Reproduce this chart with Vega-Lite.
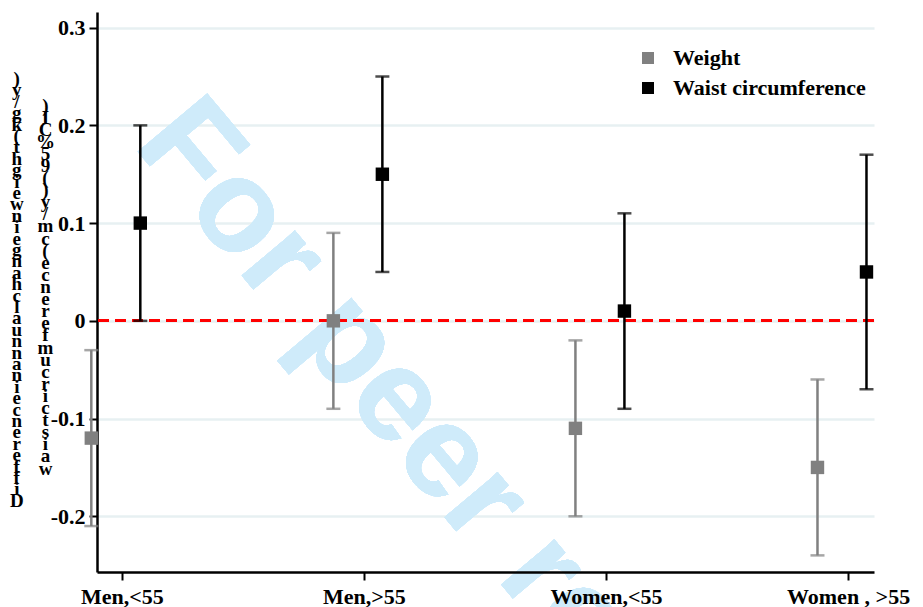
{
  "$schema": "https://vega.github.io/schema/vega-lite/v6.json",
  "width": 777,
  "height": 560,
  "autosize": "none",
  "padding": {"left": 97, "top": 12, "right": 49, "bottom": 35},
  "background": "white",
  "config": {
    "view": {"stroke": null},
    "font": "Liberation Serif",
    "legend": {
      "title": null,
      "orient": "none",
      "legendX": 540,
      "legendY": 35,
      "padding": 0,
      "symbolType": "square",
      "symbolSize": 144,
      "symbolStrokeWidth": 0,
      "symbolOpacity": 1,
      "labelFont": "Liberation Serif",
      "labelFontWeight": "bold",
      "labelFontSize": 22,
      "labelColor": "black",
      "labelLimit": 0,
      "labelOffset": 14,
      "rowPadding": 8
    }
  },
  "title": {
    "text": [")", "y", "/", "g", "k", "(", "\u00a0", "t", "h", "g", "i", "e", "w", "\u00a0", "n", "i", "\u00a0", "e", "g", "n", "a", "h", "c", "\u00a0", "l", "a", "u", "n", "n", "a", "\u00a0", "n", "i", "\u00a0", "e", "c", "n", "e", "r", "e", "f", "f", "i", "D"],
    "orient": "left",
    "angle": 0,
    "anchor": "middle",
    "align": "center",
    "baseline": "top",
    "dy": -222,
    "font": "Liberation Serif",
    "fontWeight": "bold",
    "fontSize": 19,
    "lineHeight": 11.4,
    "color": "black",
    "offset": 5
  },
  "data": {
    "values": [
      {"group": "Men,<55", "measure": "Weight", "est": -0.12, "lo": -0.21, "hi": -0.03},
      {"group": "Men,>55", "measure": "Weight", "est": 0.0, "lo": -0.09, "hi": 0.09},
      {"group": "Women,<55", "measure": "Weight", "est": -0.11, "lo": -0.2, "hi": -0.02},
      {"group": "Women , >55", "measure": "Weight", "est": -0.15, "lo": -0.24, "hi": -0.06},
      {"group": "Men,<55", "measure": "Waist circumference", "est": 0.1, "lo": 0.0, "hi": 0.2},
      {"group": "Men,>55", "measure": "Waist circumference", "est": 0.15, "lo": 0.05, "hi": 0.25},
      {"group": "Women,<55", "measure": "Waist circumference", "est": 0.01, "lo": -0.09, "hi": 0.11},
      {"group": "Women , >55", "measure": "Waist circumference", "est": 0.05, "lo": -0.07, "hi": 0.17}
    ]
  },
  "encoding": {
    "x": {
      "field": "group",
      "type": "nominal",
      "sort": ["Men,<55", "Men,>55", "Women,<55", "Women , >55"],
      "scale": {"type": "band", "paddingInner": 0.9, "paddingOuter": 0.055},
      "axis": {
        "title": null,
        "zindex": 1,
        "labelAngle": 0,
        "labelFont": "Liberation Serif",
        "labelFontWeight": "bold",
        "labelFontSize": 22,
        "labelColor": "black",
        "labelPadding": 6,
        "domainColor": "black",
        "domainWidth": 2.5,
        "tickColor": "black",
        "tickWidth": 2,
        "tickSize": 8,
        "grid": false
      }
    },
    "y": {
      "type": "quantitative",
      "scale": {"domain": [-0.257, 0.316], "nice": false, "zero": false},
      "axis": {
        "values": [-0.2, -0.1, 0, 0.1, 0.2, 0.3],
        "labelExpr": "datum.value == 0 ? '0' : (datum.value < 0 ? '-' : '') + format(abs(datum.value), '.1f')",
        "labelFont": "Liberation Serif",
        "labelFontWeight": "bold",
        "labelFontSize": 22,
        "labelColor": "black",
        "labelPadding": 4,
        "domainColor": "black",
        "domainWidth": 2.5,
        "tickColor": "black",
        "tickWidth": 2,
        "tickSize": 8,
        "grid": true,
        "gridColor": "#e7f0f2",
        "gridWidth": 2.5,
        "title": [")", "I", "C", "\u00a0", "%", "5", "9", "(", ")", "y", "/", "m", "c", "(", "e", "c", "n", "e", "r", "e", "f", "m", "u", "c", "r", "i", "c", "\u00a0", "t", "s", "i", "a", "w"],
        "titleAngle": 0,
        "titleAlign": "center",
        "titleBaseline": "top",
        "titleX": -52,
        "titleY": 84,
        "titleFont": "Liberation Serif",
        "titleFontWeight": "bold",
        "titleFontSize": 19,
        "titleLineHeight": 12.1,
        "titleColor": "black"
      }
    }
  },
  "layer": [
    {
      "mark": {
        "type": "text",
        "text": "For peer review only",
        "font": "Liberation Sans",
        "fontWeight": "bold",
        "fontSize": 132,
        "angle": 50,
        "align": "left",
        "baseline": "alphabetic",
        "color": "#cfebfa"
      },
      "encoding": {
        "x": {"datum": "Men,<55", "type": "nominal", "bandPosition": 0.9},
        "y": {"datum": 0.18, "type": "quantitative"}
      }
    },
    {
      "mark": {"type": "rule", "color": "#ff0000", "strokeWidth": 2.5, "strokeDash": [11, 6]},
      "encoding": {
        "x": null,
        "y": {"datum": 0, "type": "quantitative"}
      }
    },
    {
      "mark": {"type": "rule", "strokeWidth": 2.5},
      "encoding": {
        "xOffset": {"field": "measure", "type": "nominal", "scale": {"type": "point", "padding": 0, "domain": ["Weight", "Waist circumference"], "range": [-19, 30]}},
        "y": {"field": "lo", "type": "quantitative"},
        "y2": {"field": "hi"},
        "color": {"field": "measure", "type": "nominal", "scale": {"domain": ["Weight", "Waist circumference"], "range": ["#808080", "#000000"]}}
      }
    },
    {
      "mark": {"type": "tick", "orient": "horizontal", "thickness": 2.5, "size": 14},
      "encoding": {
        "xOffset": {"field": "measure", "type": "nominal"},
        "y": {"field": "lo", "type": "quantitative"},
        "color": {"field": "measure", "type": "nominal"}
      }
    },
    {
      "mark": {"type": "tick", "orient": "horizontal", "thickness": 2.5, "size": 14},
      "encoding": {
        "xOffset": {"field": "measure", "type": "nominal"},
        "y": {"field": "hi", "type": "quantitative"},
        "color": {"field": "measure", "type": "nominal"}
      }
    },
    {
      "mark": {"type": "square", "size": 180, "opacity": 1, "filled": true},
      "encoding": {
        "xOffset": {"field": "measure", "type": "nominal"},
        "y": {"field": "est", "type": "quantitative"},
        "color": {"field": "measure", "type": "nominal"}
      }
    }
  ]
}
